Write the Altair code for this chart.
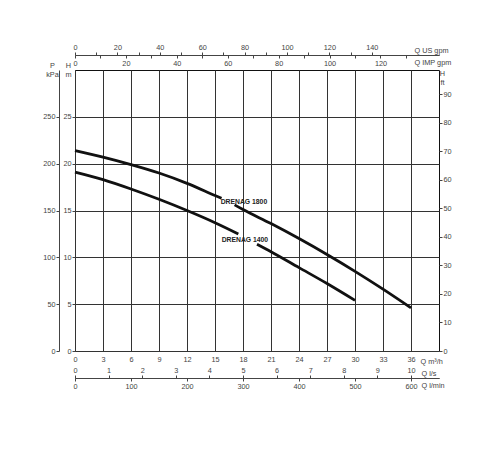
import altair as alt
import pandas as pd

FONT = "Liberation Sans Narrow, Liberation Sans, Arial, sans-serif"

# ---- curve data (Q in m3/h, H in m) ----
q_1800_a = [0, 3, 6, 9, 12, 15, 15.7]
h_1800_a = [21.4, 20.7, 19.9, 19.0, 17.9, 16.6, 16.3]
q_1800_b = [17.1, 18, 21, 24, 27, 30, 33, 36]
h_1800_b = [15.6, 15.1, 13.6, 12.0, 10.3, 8.5, 6.6, 4.6]
q_1400_a = [0, 3, 6, 9, 12, 15, 17.5]
h_1400_a = [19.1, 18.3, 17.3, 16.2, 15.0, 13.7, 12.5]
q_1400_b = [19.5, 21, 24, 27, 30]
h_1400_b = [11.4, 10.6, 8.9, 7.2, 5.4]

curve_labels = ["DRENAG 1800", "DRENAG 1400"]
label_q = [18.1, 18.2]
label_h = [15.9, 11.8]

# ---- axis ticks ----
q_m3h_ticks = [0, 3, 6, 9, 12, 15, 18, 21, 24, 27, 30, 33, 36]
h_m_ticks = [0, 5, 10, 15, 20, 25]
p_kpa_ticks = [0, 50, 100, 150, 200, 250]
h_ft_ticks = [0, 10, 20, 30, 40, 50, 60, 70, 80, 90]
us_gpm_ticks = [0, 10, 20, 30, 40, 50, 60, 70, 80, 90, 100, 110, 120, 130, 140]
imp_gpm_ticks = [0, 10, 20, 30, 40, 50, 60, 70, 80, 90, 100, 110, 120, 130]
ls_ticks = [0, 1, 2, 3, 4, 5, 6, 7, 8, 9, 10]
lmin_ticks = [0, 100, 200, 300, 400, 500, 600]

# ---- unit conversions ----
Q_MAX = 39
H_MAX = 30
US_GPM_PER_M3H = 4.40287
IMP_GPM_PER_M3H = 3.66615
LS_PER_M3H = 1 / 3.6
LMIN_PER_M3H = 1000 / 60
KPA_PER_M = 10
FT_PER_M = 1 / 0.3048

rows = []
for model, seg, qs, hs in [
    ("1800", "1800a", q_1800_a, h_1800_a),
    ("1800", "1800b", q_1800_b, h_1800_b),
    ("1400", "1400a", q_1400_a, h_1400_a),
    ("1400", "1400b", q_1400_b, h_1400_b),
]:
    for q, h in zip(qs, hs):
        rows.append({"model": model, "seg": seg, "q": q, "h": h})
curves = pd.DataFrame(rows)
labels_df = pd.DataFrame({"q": label_q, "h": label_h, "label": curve_labels})

x_main = alt.X(
    "q:Q",
    scale=alt.Scale(domain=[0, Q_MAX], nice=False, zero=False),
    axis=alt.Axis(orient="bottom", values=q_m3h_ticks, grid=True, domain=False,
                  ticks=False, labelPadding=4, title="Q m³/h", titleX=345,
                  titleY=12, titleAlign="left", titleBaseline="alphabetic"),
)
y_main = alt.Y(
    "h:Q",
    scale=alt.Scale(domain=[0, H_MAX], nice=False, zero=False),
    axis=alt.Axis(orient="left", values=h_m_ticks, grid=True, domain=False,
                  tickSize=3, labelPadding=1, title=["H", "m"], titleAngle=0,
                  titleX=-7, titleY=-3, titleAlign="center",
                  titleBaseline="alphabetic", titleLineHeight=9),
)

lines = alt.Chart(curves).mark_line(
    color="#111", strokeWidth=2.8, interpolate="monotone"
).encode(x=x_main, y=y_main, detail="seg:N")

texts = alt.Chart(labels_df).mark_text(
    font=FONT, fontSize=6.8, fontWeight="bold", color="#222"
).encode(x=x_main, y=y_main, text="label:N")

main = alt.layer(lines, texts)

# left kPa axis
kpa = alt.Chart(pd.DataFrame({"p": p_kpa_ticks})).mark_point(opacity=0).encode(
    y=alt.Y("p:Q", scale=alt.Scale(domain=[0, H_MAX * KPA_PER_M], nice=False, zero=False),
            axis=alt.Axis(orient="left", offset=16, values=p_kpa_ticks, grid=False,
                          tickSize=3, labelPadding=1, title=["P", "kPa"], titleAngle=0,
                          titleX=-7, titleY=-3, titleAlign="center",
                          titleBaseline="alphabetic", titleLineHeight=9))
)

# right ft axis
ft = alt.Chart(pd.DataFrame({"f": h_ft_ticks})).mark_point(opacity=0).encode(
    y=alt.Y("f:Q", scale=alt.Scale(domain=[0, H_MAX * FT_PER_M], nice=False, zero=False),
            axis=alt.Axis(orient="right", values=h_ft_ticks, grid=False, domain=False,
                          tickSize=3, labelPadding=1, title=["H", "ft"], titleAngle=0,
                          titleX=3, titleY=5, titleAlign="center",
                          titleBaseline="alphabetic", titleLineHeight=9))
)

# top US gpm axis
us = alt.Chart(pd.DataFrame({"g": us_gpm_ticks})).mark_point(opacity=0).encode(
    x=alt.X("g:Q", scale=alt.Scale(domain=[0, Q_MAX * US_GPM_PER_M3H], nice=False, zero=False),
            axis=alt.Axis(orient="top", offset=15, values=us_gpm_ticks, grid=False,
                          tickSize=3, labelPadding=1,
                          labelExpr="datum.value % 20 == 0 ? datum.label : ''",
                          title="Q US gpm", titleX=339, titleY=-3, titleAlign="left",
                          titleBaseline="alphabetic"))
)

# IMP gpm axis (same line, labels below)
imp = alt.Chart(pd.DataFrame({"i": imp_gpm_ticks})).mark_point(opacity=0).encode(
    x=alt.X("i:Q", scale=alt.Scale(domain=[0, Q_MAX * IMP_GPM_PER_M3H], nice=False, zero=False),
            axis=alt.Axis(orient="bottom", offset=-296, values=imp_gpm_ticks, grid=False,
                          tickSize=3, labelPadding=1,
                          labelExpr="datum.value % 20 == 0 ? datum.label : ''",
                          title="Q IMP gpm", titleX=339, titleY=9, titleAlign="left",
                          titleBaseline="alphabetic"))
)

# bottom l/s axis (labels above line)
ls = alt.Chart(pd.DataFrame({"s": ls_ticks})).mark_point(opacity=0).encode(
    x=alt.X("s:Q", scale=alt.Scale(domain=[0, Q_MAX * LS_PER_M3H], nice=False, zero=False),
            axis=alt.Axis(orient="top", offset=-308, values=ls_ticks, grid=False,
                          tickSize=3, labelPadding=1,
                          title="Q l/s", titleX=346, titleY=-3, titleAlign="left",
                          titleBaseline="alphabetic"))
)

# bottom l/min axis (labels below line)
lmin = alt.Chart(pd.DataFrame({"m": lmin_ticks})).mark_point(opacity=0).encode(
    x=alt.X("m:Q", scale=alt.Scale(domain=[0, Q_MAX * LMIN_PER_M3H], nice=False, zero=False),
            axis=alt.Axis(orient="bottom", offset=27, values=lmin_ticks, grid=False,
                          tickSize=3, labelPadding=1,
                          title="Q l/min", titleX=346, titleY=9, titleAlign="left",
                          titleBaseline="alphabetic"))
)

chart = alt.layer(main, kpa, ft, us, imp, ls, lmin).resolve_scale(
    x="independent", y="independent"
).properties(
    width=364, height=281,
    autosize=alt.AutoSizeParams(type="none"),
    padding={"left": 67, "top": 62, "right": 53, "bottom": 91},
).configure_view(
    stroke="#111", strokeWidth=1
).configure_axis(
    labelFont=FONT, labelFontSize=7.3, labelColor="#444",
    titleFont=FONT, titleFontSize=7.3, titleColor="#444", titleFontWeight="normal",
    tickColor="#444", domainColor="#444", tickWidth=1, domainWidth=1,
    gridColor="#333", gridWidth=1, gridOpacity=1,
    labelFlush=False, labelOverlap=False,
)

chart.save("out.html", embed_options={"renderer": "svg", "actions": False})
